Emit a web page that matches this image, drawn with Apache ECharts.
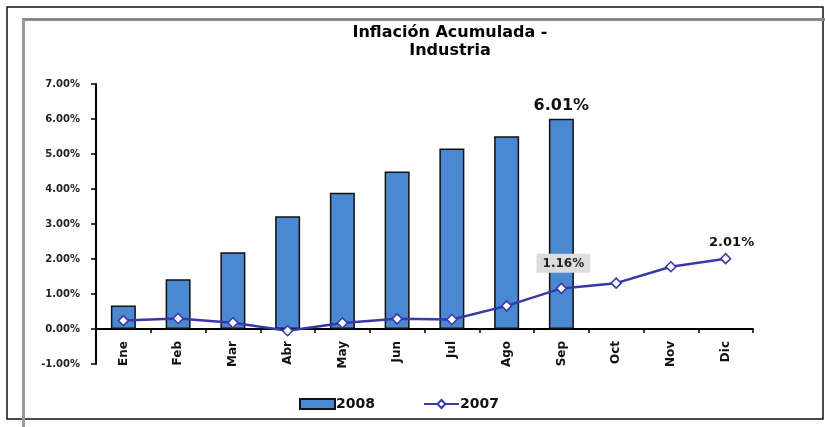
<!DOCTYPE html>
<html>
<head>
<meta charset="utf-8">
<script src="https://cdn.jsdelivr.net/npm/echarts@6/dist/echarts.min.js"></script>
<style>
  html, body { margin: 0; padding: 0; background: #fff; }
  #chart { width: 825px; height: 427px; }
</style>
</head>
<body>
<div id="chart"></div>
<script>
// meses
var meses = ['Ene', 'Feb', 'Mar', 'Abr', 'May', 'Jun', 'Jul', 'Ago', 'Sep', 'Oct', 'Nov', 'Dic'];
// inflacion acumulada 2008 (hasta septiembre)
var infl2008 = [0.67, 1.42, 2.19, 3.22, 3.89, 4.50, 5.16, 5.51, 6.01];
// inflacion acumulada 2007
var infl2007 = [0.24, 0.30, 0.18, -0.05, 0.17, 0.29, 0.27, 0.66, 1.16, 1.31, 1.78, 2.01];

var fuente = 'DejaVu Sans, Verdana, sans-serif';

var pct = function (p) { return p.value.toFixed(2) + '%'; };

var barras = infl2008.map(function (v, i) {
    if (i === infl2008.length - 1) {
        return {
            value: v,
            label: {
                show: true, position: 'top', distance: 5, formatter: pct,
                fontSize: 16, fontWeight: 'bold', color: '#111', fontFamily: fuente
            }
        };
    }
    return v;
});

var linea = infl2007.map(function (v, i) {
    if (meses[i] === 'Sep') {
        return {
            value: v,
            label: {
                show: true, position: 'top', distance: 10, offset: [2, 0], formatter: pct,
                fontSize: 12, fontWeight: 'bold', color: '#222', fontFamily: fuente,
                backgroundColor: '#dcdcdc', padding: [4, 6, 3, 6]
            }
        };
    }
    if (meses[i] === 'Dic') {
        return {
            value: v,
            label: {
                show: true, position: 'top', distance: 4, offset: [6, 0], formatter: pct,
                fontSize: 13, fontWeight: 'bold', color: '#111', fontFamily: fuente
            }
        };
    }
    return v;
});

var myChart = echarts.init(document.getElementById('chart'));
var option = {
    backgroundColor: '#fff',
    animation: false,
    title: {
        text: 'Inflación Acumulada -\nIndustria',
        left: 445, top: 19, textAlign: 'center',
        textStyle: { fontSize: 16, fontWeight: 'bold', color: '#000', fontFamily: fuente, lineHeight: 18 }
    },
    graphic: [
        { type: 'rect', shape: { x: 7, y: 7, width: 816, height: 412 }, style: { fill: 'none', stroke: '#111', lineWidth: 1.5 }, silent: true, z: -10 },
        { type: 'line', shape: { x1: 22, y1: 19.5, x2: 825, y2: 19.5 }, style: { stroke: '#888', lineWidth: 3 }, silent: true, z: -10 },
        { type: 'line', shape: { x1: 23.5, y1: 19, x2: 23.5, y2: 427 }, style: { stroke: '#999', lineWidth: 3 }, silent: true, z: -10 }
    ],
    legend: {
        bottom: 11, left: 294, itemGap: 48, itemWidth: 35, itemHeight: 10,
        textStyle: { fontSize: 14, fontWeight: 'bold', color: '#111', fontFamily: fuente, padding: [0, 0, 0, -4] },
        data: [
            { name: '2008', icon: 'rect' },
            { name: '2007' }
        ]
    },
    grid: { left: 96, right: 72, top: 84, bottom: 63 },
    xAxis: {
        type: 'category',
        data: meses,
        axisLine: { onZero: true, lineStyle: { color: '#000', width: 2 } },
        axisTick: { show: true, alignWithLabel: false, length: 4, lineStyle: { color: '#000', width: 1.5 } },
        axisLabel: {
            rotate: 90, margin: -23, fontSize: 12, fontWeight: 'bold', color: '#111', fontFamily: fuente
        }
    },
    yAxis: {
        type: 'value',
        min: -1, max: 7, interval: 1,
        splitLine: { show: false },
        axisLine: { show: true, lineStyle: { color: '#000', width: 2 } },
        axisTick: { show: true, length: 5, lineStyle: { color: '#000', width: 1.5 } },
        axisLabel: {
            margin: 16, fontSize: 10, fontWeight: 'bold', color: '#222', fontFamily: fuente,
            formatter: function (v) { return v.toFixed(2) + '%'; }
        }
    },
    series: [
        {
            name: '2008',
            type: 'bar',
            data: barras,
            barWidth: 25,
            itemStyle: { color: '#4a88d2', borderColor: '#111', borderWidth: 1.5 },
            z: 2
        },
        {
            name: '2007',
            type: 'line',
            data: linea,
            symbol: 'diamond',
            symbolSize: 10,
            showAllSymbol: true,
            lineStyle: { color: '#3838a8', width: 2.5 },
            itemStyle: { color: '#fff', borderColor: '#3838a8', borderWidth: 1.5 },
            z: 3
        }
    ]
};
myChart.setOption(option);
</script>
</body>
</html>
